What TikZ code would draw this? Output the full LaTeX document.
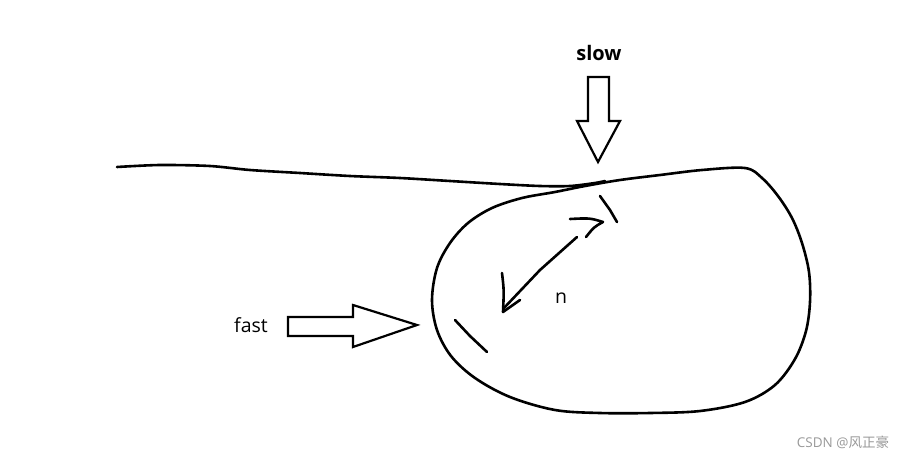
\documentclass[tikz,border=0pt]{standalone}
\usepackage{fontspec}
\setmainfont{Open Sans}
\newfontfamily\cjk{Noto Sans CJK SC}
\begin{document}
\begin{tikzpicture}[x=1pt,y=-1pt,
  pen/.style={line width=2.6pt,line cap=round,line join=round},
  blockarrow/.style={line width=2.2pt,line join=miter},
  lbl/.style={inner sep=0pt,font=\fontsize{19.5}{22}\selectfont}]
\useasboundingbox[fill=white] (0,0) rectangle (906,459);
% ground line
\draw[pen] plot[smooth,tension=0.5] coordinates {(117,167) (160,165) (210,166) (250,170) (300,173) (350,176) (400,178) (450,181) (500,184) (540,186) (570,186) (595,183) (605,181)};
% blob
\draw[pen] plot[smooth cycle,tension=0.55] coordinates {(745,168) (762,178) (778,196) (792,218) (802,243) (809,272) (810,302) (806,331) (795,359) (775,385) (745,402) (700,411) (650,413) (600,413) (555,410) (510,397) (475,378) (451,356) (437,330) (432,300) (437,268) (450,243) (468,223) (492,208) (522,198) (555,192) (585,186) (620,180) (660,175) (702,170)};
% slow block arrow
\node[lbl,font=\fontsize{20}{22}\selectfont\bfseries] (slow) at (599,53) {slow};
\coordinate (slowtip) at (598,162);
\draw[blockarrow] (588,77) -- (609,77) -- (609,121) -- (620,121) -- (slowtip) -- (577,121) -- (588,121) -- cycle;
% fast block arrow
\node[lbl] (fast) at (251,325) {fast};
\coordinate (fasttip) at (417,325);
\draw[blockarrow] (288,317) -- (353,317) -- (353,305) -- (fasttip) -- (353,347) -- (353,336) -- (288,336) -- cycle;
% ticks
\draw[pen] (455,320) -- (470,336) -- (487,352);
\draw[pen] (600,196) -- (610,210) -- (617,222);
% n arrow
\coordinate (nup) at (577,237);
\coordinate (nlow) at (504,308);
\draw[pen] (nup) -- (540,270) -- (nlow);
\draw[pen] (570,219) .. controls (590,218) .. (603,222) .. controls (594,227) .. (586,237);
\draw[pen] (502,273) .. controls (504,290) .. (503,312) -- (520,300);
\node[lbl] (n) at (561,298) {n};
% watermark
\node[inner sep=0pt,text=black!40,font=\fontsize{13.5}{15}\selectfont] (wm) at (843,442) {CSDN @{\cjk 风正豪}};
\end{tikzpicture}
\end{document}
